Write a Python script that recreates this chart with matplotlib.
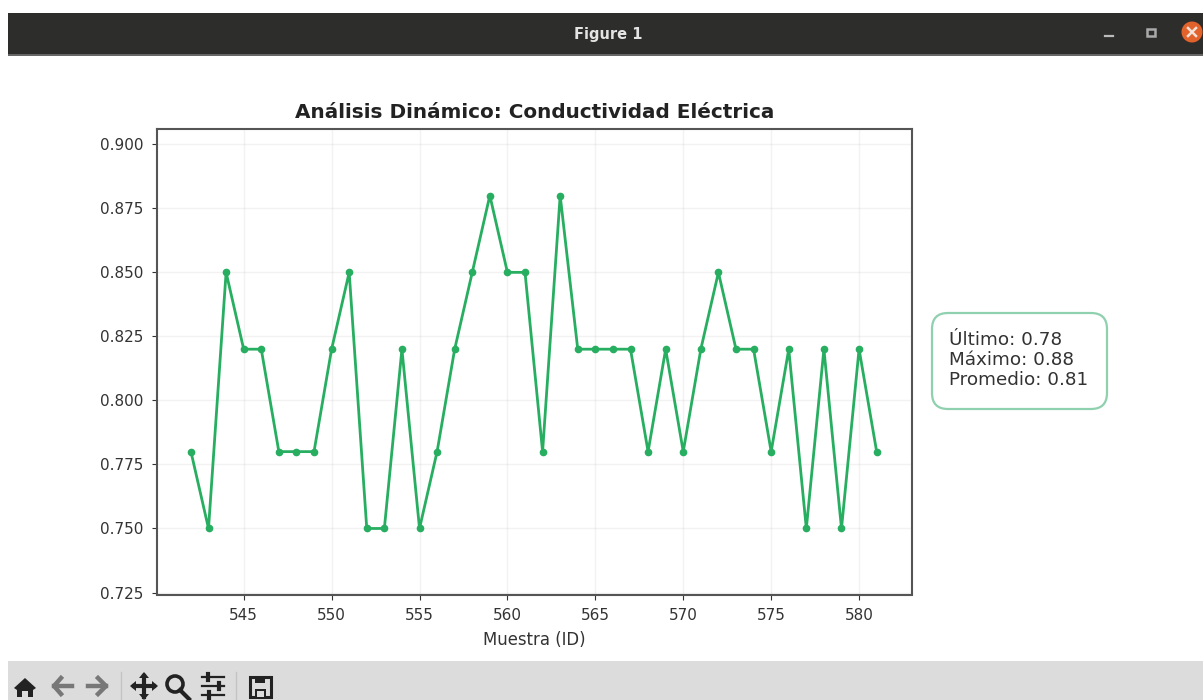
import matplotlib
matplotlib.use('Agg')
import matplotlib.pyplot as plt
from matplotlib.patches import Rectangle, FancyBboxPatch, Circle, Polygon

plt.rcParams['font.family'] = 'DejaVu Sans'

W, H = 1203, 700

# Data
muestra = list(range(542, 582))
conductividad = [0.78, 0.75, 0.85, 0.82, 0.82, 0.78, 0.78, 0.78, 0.82, 0.85,
                 0.75, 0.75, 0.82, 0.75, 0.78, 0.82, 0.85, 0.88, 0.85, 0.85,
                 0.78, 0.88, 0.82, 0.82, 0.82, 0.82, 0.78, 0.82, 0.78, 0.82,
                 0.85, 0.82, 0.82, 0.78, 0.82, 0.75, 0.82, 0.75, 0.82, 0.78]
x_ticks = [545, 550, 555, 560, 565, 570, 575, 580]
y_ticks = [0.725, 0.750, 0.775, 0.800, 0.825, 0.850, 0.875, 0.900]
resumen = "Último: 0.78\nMáximo: 0.88\nPromedio: 0.81"
titulo = "Análisis Dinámico: Conductividad Eléctrica"
ventana = "Figure 1"

fig = plt.figure(figsize=(W / 100, H / 100), dpi=100)

# Window chrome drawn on a full-figure overlay in pixel coordinates
bg = fig.add_axes([0, 0, 1, 1], zorder=2)
bg.set_xlim(0, W)
bg.set_ylim(H, 0)
bg.axis('off')
bg.add_patch(Rectangle((8, 13), W - 8, 41, color='#2d2d2b', lw=0))
bg.add_patch(Rectangle((8, 54), W - 8, 2, color='#666666', lw=0))
bg.add_patch(Rectangle((8, 661), W - 8, 39, color='#dcdcdc', lw=0))
bg.text(608, 34, ventana, color='#e4e4e4', fontsize=10.5, fontweight='bold',
        ha='center', va='center')

# window buttons
bg.plot([1105, 1113], [36, 36], color='#bbbbbb', lw=1.6)
bg.add_patch(Rectangle((1147, 29), 8, 7, fill=False, ec='#aaaaaa', lw=1.8))
bg.add_patch(Circle((1192, 32), 10.5, color='#e2622c', lw=0))
bg.plot([1188, 1196], [28, 36], color='#f5e0d5', lw=1.8)
bg.plot([1188, 1196], [36, 28], color='#f5e0d5', lw=1.8)

# toolbar icons
dark = '#222222'
grey = '#777777'
bg.add_patch(Polygon([(14, 688), (25, 678), (36, 688), (33, 690), (33, 697), (28, 697),
                      (28, 691), (22, 691), (22, 697), (17, 697), (17, 690)], color=dark, lw=0))
bg.plot([72, 54], [686, 686], color=grey, lw=3.2)
bg.plot([61, 54, 61], [678, 686, 694], color=grey, lw=3.2)
bg.plot([88, 106], [686, 686], color=grey, lw=3.2)
bg.plot([98, 106, 98], [678, 686, 694], color=grey, lw=3.2)
bg.plot([121, 121], [672, 700], color='#c4c4c4', lw=1)
bg.plot([134, 154], [686, 686], color=dark, lw=3)
bg.plot([144, 144], [676, 697], color=dark, lw=3)
for pts in ([(130, 686), (136, 681), (136, 691)], [(158, 686), (152, 681), (152, 691)],
            [(144, 672), (139, 678), (149, 678)], [(144, 700), (139, 694), (149, 694)]):
    bg.add_patch(Polygon(pts, color=dark, lw=0))
bg.add_patch(Circle((175, 684), 8, fill=False, ec=dark, lw=2.6))
bg.plot([180, 189], [690, 699], color=dark, lw=3)
for yy, xx in zip([677, 686, 695], [208, 219, 209]):
    bg.plot([202, 224], [yy, yy], color=dark, lw=1.6)
    bg.plot([xx, xx], [yy - 3, yy + 3], color=dark, lw=3)
bg.plot([236, 236], [672, 700], color='#c4c4c4', lw=1)
bg.add_patch(Rectangle((250, 677), 21, 20, fill=False, ec=dark, lw=2.2))
bg.add_patch(Rectangle((255, 677), 10, 6, color=dark, lw=0))
bg.add_patch(Rectangle((255, 689), 11, 8, color=dark, lw=0))
bg.add_patch(Rectangle((257, 691), 7, 6, color='#dcdcdc', lw=0))

# Main chart
left, right, top, bottom = 157, 912, 129, 594.5
ax = fig.add_axes([left / W, 1 - bottom / H, (right - left) / W, (bottom - top) / H], zorder=1)
ax.plot(muestra, conductividad, color='#27ae60', lw=2, marker='o', markersize=4.5)
ax.set_xlim(540.07, 583.01)
ax.set_ylim(0.72422, 0.90597)
ax.set_xticks(x_ticks)
ax.set_yticks(y_ticks)
ax.set_yticklabels([f"{v:.3f}" for v in y_ticks])
ax.tick_params(labelsize=11, colors='#333333', length=3.5, pad=6.3)
ax.grid(True, color='#888888', alpha=0.1, lw=1)
for s in ax.spines.values():
    s.set_linewidth(1.5)
    s.set_color('#555555')
ax.set_xlabel("Muestra (ID)", fontsize=11.9, color='#333333', labelpad=6)
ax.set_title(titulo, fontsize=14.4, fontweight='bold', color='#222222', pad=8)

# Summary box
bg.add_patch(FancyBboxPatch((932, 313), 175, 96, boxstyle='round,pad=0,rounding_size=16',
                            fc='white', ec='#8fd0ae', lw=1.6))
bg.text(949, 360, resumen, fontsize=13.2, color='#333333', va='center', ha='left',
        linespacing=1.12)

fig.savefig('out.png', dpi=100)
